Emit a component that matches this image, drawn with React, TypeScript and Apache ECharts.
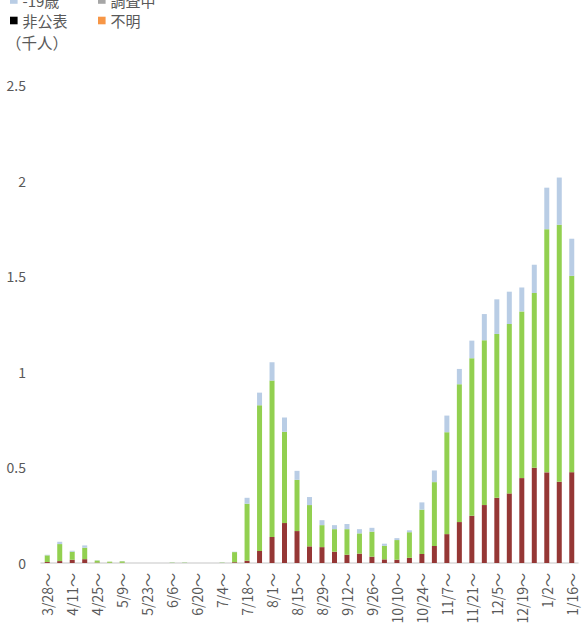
import React, { useEffect, useRef } from "react";
import * as echarts from "echarts";

const categories = [
  "3/28～", "4/4～", "4/11～", "4/18～", "4/25～", "5/2～", "5/9～", "5/16～", "5/23～", "5/30～",
  "6/6～", "6/13～", "6/20～", "6/27～", "7/4～", "7/11～", "7/18～", "7/25～", "8/1～", "8/8～",
  "8/15～", "8/22～", "8/29～", "9/5～", "9/12～", "9/19～", "9/26～", "10/3～", "10/10～", "10/17～",
  "10/24～", "10/31～", "11/7～", "11/14～", "11/21～", "11/28～", "12/5～", "12/12～", "12/19～", "12/26～",
  "1/2～", "1/9～", "1/16～",
];

const redValues = [
  0.005, 0.01, 0.017, 0.02, 0.002, 0.001, 0.001, 0, 0, 0,
  0, 0, 0, 0, 0, 0.004, 0.012, 0.063, 0.136, 0.209,
  0.167, 0.087, 0.083, 0.059, 0.043, 0.049, 0.033, 0.019, 0.017, 0.027,
  0.047, 0.089, 0.151, 0.214, 0.247, 0.303, 0.341, 0.364, 0.444, 0.498,
  0.474, 0.425, 0.475,
];

const greenValues = [
  0.035, 0.089, 0.042, 0.06, 0.011, 0.006, 0.008, 0, 0, 0,
  0.002, 0.002, 0, 0, 0.002, 0.053, 0.298, 0.762, 0.818, 0.477,
  0.268, 0.216, 0.115, 0.118, 0.134, 0.106, 0.131, 0.071, 0.103, 0.134,
  0.232, 0.334, 0.533, 0.721, 0.824, 0.862, 0.857, 0.886, 0.872, 0.914,
  1.272, 1.344, 1.027,
];

const blueValues = [
  0.003, 0.012, 0.005, 0.012, 0.001, 0, 0.001, 0, 0, 0,
  0.001, 0.001, 0, 0, 0.001, 0.002, 0.031, 0.066, 0.096, 0.075,
  0.047, 0.042, 0.026, 0.021, 0.027, 0.022, 0.02, 0.011, 0.01, 0.01,
  0.038, 0.061, 0.087, 0.08, 0.092, 0.137, 0.181, 0.169, 0.125, 0.148,
  0.217, 0.247, 0.194,
];

const yTicks = [0, 0.5, 1, 1.5, 2, 2.5];

const legendItems = [
  { name: "-19歳", color: "#B9CDE5" },
  { name: "調査中", color: "#A6A6A6" },
  { name: "非公表", color: "#000000" },
  { name: "不明", color: "#F79646" },
];

const unitLabel = "（千人）";

const FONT = '"Noto Sans CJK JP", "Noto Sans", sans-serif';
const TEXT_COLOR = "#595959";

export default function App() {
  const ref = useRef<HTMLDivElement>(null);

  useEffect(() => {
    if (!ref.current) return;
    const chart = echarts.init(ref.current, null, { renderer: "svg" });

    const legendGraphics: any[] = [];
    legendItems.forEach((item, i) => {
      const col = i % 2;
      const row = Math.floor(i / 2);
      const x = 10 + col * 88;
      const cy = row * 20.5;
      legendGraphics.push({
        type: "rect",
        shape: { x, y: cy - 3.8, width: 7.6, height: 7.6 },
        style: { fill: item.color },
      });
      legendGraphics.push({
        type: "text",
        style: {
          x: x + 12.5,
          y: cy,
          text: item.name,
          fill: TEXT_COLOR,
          font: `15px ${FONT}`,
          textVerticalAlign: "middle",
          textAlign: "left",
        },
      });
    });
    legendGraphics.push({
      type: "text",
      style: {
        x: 6,
        y: 42,
        text: unitLabel,
        fill: TEXT_COLOR,
        font: `15.5px ${FONT}`,
        textVerticalAlign: "middle",
        textAlign: "left",
      },
    });

    const barCommon = {
      type: "bar" as const,
      stack: "total",
      barWidth: 5,
    };

    chart.setOption({
      animation: false,
      textStyle: { fontFamily: FONT },
      grid: { left: 41, right: 5, top: 85, bottom: 71, containLabel: false },
      xAxis: {
        type: "category",
        data: categories,
        axisLine: { show: true, lineStyle: { color: "#D9D9D9", width: 1.5 } },
        axisTick: { show: false },
        axisLabel: {
          interval: 1,
          rotate: 90,
          color: TEXT_COLOR,
          fontSize: 14,
          fontFamily: FONT,
          margin: 10,
        },
      },
      yAxis: {
        type: "value",
        min: yTicks[0],
        max: yTicks[yTicks.length - 1],
        interval: 0.5,
        splitLine: { show: false },
        axisLine: { show: false },
        axisTick: { show: false },
        axisLabel: {
          color: TEXT_COLOR,
          fontSize: 14,
          fontFamily: FONT,
          margin: 15,
          formatter: (v: number) => String(v),
        },
      },
      series: [
        { ...barCommon, name: "red", data: redValues, itemStyle: { color: "#953735" } },
        { ...barCommon, name: "green", data: greenValues, itemStyle: { color: "#92D050" } },
        { ...barCommon, name: "-19歳", data: blueValues, itemStyle: { color: "#B9CDE5" } },
      ],
      graphic: legendGraphics,
    });

    return () => chart.dispose();
  }, []);

  return (
    <div
      ref={ref}
      style={{ position: "absolute", left: 0, top: 0, width: 583, height: 634 }}
    />
  );
}
